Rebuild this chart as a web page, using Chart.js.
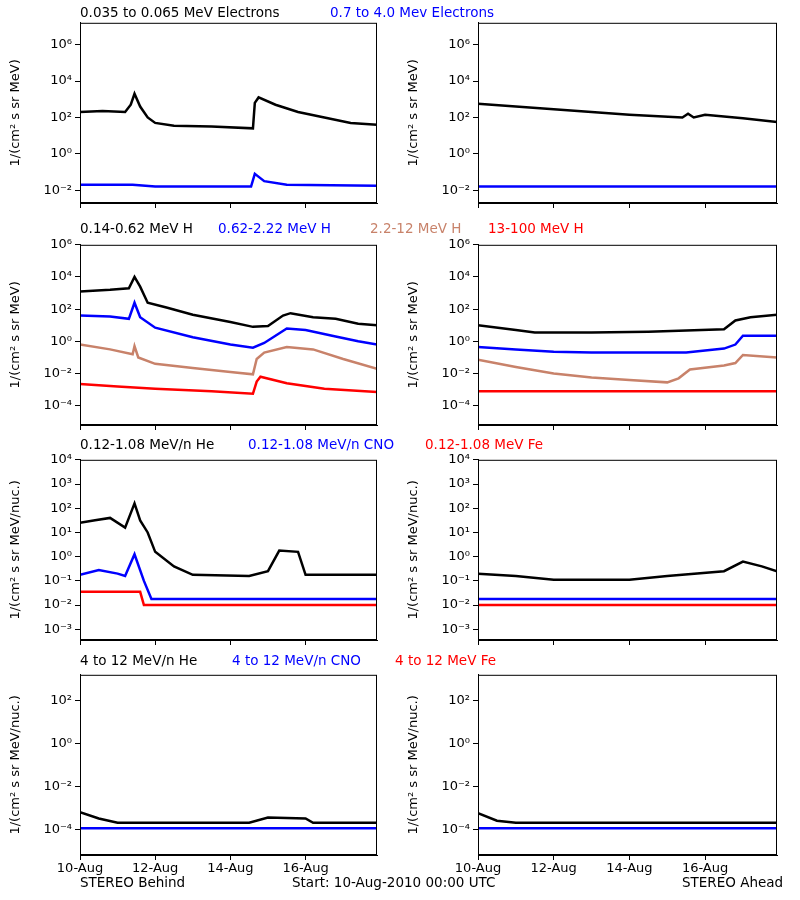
<!DOCTYPE html>
<html><head><meta charset="utf-8">
<script src="https://cdn.jsdelivr.net/npm/chart.js@4"></script>
<style>
body{margin:0;background:#fff;width:800px;height:900px;position:relative;font-family:"DejaVu Sans",sans-serif;}
.t{position:absolute;font-size:13.5px;white-space:nowrap;}
.c{position:absolute;}
</style></head><body>
<script>
// ---- data: [day since 10-Aug-2010, log10(flux)] ----
const xTickDays = [0,2,4,6];
const xTickLabels = ['10-Aug','12-Aug','14-Aug','16-Aug'];
// Row 1 electrons
const bElecLo = [[0,2.3],[0.6,2.35],[1.2,2.3],[1.35,2.7],[1.45,3.3],[1.6,2.6],[1.8,2.0],[2.0,1.7],[2.5,1.55],[3.5,1.5],[4.6,1.4],[4.65,2.8],[4.75,3.1],[5.2,2.7],[5.8,2.3],[6.5,2.0],[7.2,1.7],[7.9,1.6]];
const bElecHi = [[0,-1.7],[1.4,-1.7],[2,-1.8],[4.55,-1.8],[4.65,-1.1],[4.9,-1.5],[5.5,-1.7],[7.9,-1.75]];
const aElecLo = [[0,2.75],[1,2.6],[2,2.45],[3,2.3],[4,2.15],[5.4,2.0],[5.55,2.2],[5.7,2.0],[6,2.15],[7,1.95],[7.9,1.75]];
const aElecHi = [[0,-1.8],[4,-1.8],[7.9,-1.8]];
// Row 2 protons
const bH1 = [[0,3.1],[0.8,3.2],[1.3,3.3],[1.45,4.0],[1.6,3.4],[1.8,2.4],[2.3,2.1],[3,1.65],[4,1.2],[4.6,0.9],[5.0,0.95],[5.4,1.6],[5.6,1.75],[6.2,1.5],[6.8,1.4],[7.4,1.1],[7.9,1.0]];
const bH2 = [[0,1.6],[0.8,1.55],[1.3,1.4],[1.45,2.4],[1.6,1.5],[2,0.85],[3,0.25],[4,-0.2],[4.6,-0.4],[4.9,-0.1],[5.5,0.8],[6,0.7],[6.8,0.3],[7.4,0.0],[7.9,-0.2]];
const bH3 = [[0,-0.2],[0.8,-0.5],[1.4,-0.8],[1.45,-0.3],[1.55,-1.0],[2,-1.4],[3,-1.65],[4,-1.9],[4.6,-2.05],[4.7,-1.1],[4.9,-0.7],[5.5,-0.35],[6.2,-0.5],[7,-1.1],[7.9,-1.7]];
const bH4 = [[0,-2.65],[1,-2.8],[2,-2.95],[3.5,-3.1],[4.6,-3.25],[4.7,-2.5],[4.8,-2.2],[5.5,-2.6],[6.5,-2.95],[7.9,-3.15]];
const aH1 = [[0,1.0],[1,0.7],[1.5,0.55],[3,0.55],[4.5,0.6],[6.5,0.75],[6.8,1.3],[7.2,1.5],[7.9,1.65]];
const aH2 = [[0,-0.35],[1,-0.5],[2,-0.65],[3,-0.7],[5.5,-0.7],[6.5,-0.45],[6.8,-0.2],[7.0,0.35],[7.9,0.35]];
const aH3 = [[0,-1.15],[1,-1.6],[2,-2.0],[3,-2.25],[4,-2.4],[5.0,-2.55],[5.3,-2.3],[5.6,-1.75],[6.5,-1.5],[6.8,-1.35],[7.0,-0.85],[7.9,-1.0]];
const aH4 = [[0,-3.1],[4,-3.1],[7.9,-3.1]];
// Row 3 low-energy ions
const bHe = [[0,1.4],[0.4,1.5],[0.8,1.6],[1.2,1.2],[1.45,2.2],[1.6,1.5],[1.8,1.0],[2,0.2],[2.5,-0.4],[3,-0.75],[4.5,-0.8],[5.0,-0.6],[5.3,0.25],[5.8,0.2],[6.0,-0.75],[7.9,-0.75]];
const bCNO = [[0,-0.75],[0.5,-0.55],[1.0,-0.7],[1.2,-0.8],[1.45,0.1],[1.7,-1.0],[1.9,-1.75],[7.9,-1.75]];
const bFe = [[0,-1.45],[1.6,-1.45],[1.7,-2.0],[7.9,-2.0]];
const aHe = [[0,-0.7],[1,-0.8],[2,-0.95],[4,-0.95],[5,-0.8],[6.5,-0.6],[7,-0.2],[7.5,-0.4],[7.9,-0.6]];
const aCNO = [[0,-1.75],[7.9,-1.75]];
const aFe = [[0,-2.0],[7.9,-2.0]];
// Row 4 high-energy ions
const bHeHi = [[0,-3.2],[0.5,-3.5],[1,-3.7],[4.5,-3.7],[5.0,-3.45],[6.0,-3.5],[6.2,-3.7],[7.9,-3.7]];
const bCNOHi = [[0,-3.95],[7.9,-3.95]];
const aHeHi = [[0,-3.25],[0.5,-3.6],[1,-3.7],[7.9,-3.7]];
const aCNOHi = [[0,-3.95],[7.9,-3.95]];

const BLACK='#000', BLUE='#0000ff', BROWN='#c8826a', RED='#ff0000';
const sup = {'-':'⁻','0':'⁰','1':'¹','2':'²','3':'³','4':'⁴','5':'⁵','6':'⁶','7':'⁷','8':'⁸','9':'⁹'};
const pow = n => '10' + String(n).split('').map(c=>sup[c]).join('');
const F={family:'DejaVu Sans',size:13};

function panel(px,py,pw,ph,ymin,ymax,majors,ytitle,series,showX){
  const d=document.createElement('div');d.className='c';
  const L=72,T=6,R=12,B=26;
  d.style.left=(px-L)+'px';d.style.top=(py-T)+'px';d.style.width=(pw+L+R)+'px';d.style.height=(ph+T+B)+'px';
  const cv=document.createElement('canvas');d.appendChild(cv);document.body.appendChild(d);
  new Chart(cv,{type:'scatter',
    data:{datasets:series.map(s=>({data:s[0].map(p=>({x:p[0],y:Math.pow(10,p[1])})),borderColor:s[1],backgroundColor:s[1],showLine:true,borderWidth:2.5,pointRadius:0}))},
    options:{responsive:true,maintainAspectRatio:false,animation:false,layout:{padding:{top:T,right:R,left:0,bottom:0}},
      plugins:{legend:{display:false},tooltip:{enabled:false}},
      scales:{
        x:{type:'linear',min:0,max:7.9,afterBuildTicks:a=>{a.ticks=xTickDays.map(v=>({value:v}));},
           afterFit:a=>{a.height=B;},
           ticks:{display:showX,color:'#000',font:F,maxRotation:0,padding:1,callback:(v)=>xTickLabels[xTickDays.indexOf(v)]},
           grid:{drawOnChartArea:false,color:'#000',tickLength:5},border:{color:'#000'}},
        y:{type:'logarithmic',min:Math.pow(10,ymin),max:Math.pow(10,ymax),
           afterBuildTicks:a=>{a.ticks=majors.map(v=>({value:Math.pow(10,v)}));},
           afterFit:a=>{a.width=L;},
           ticks:{color:'#000',font:F,callback:v=>pow(Math.round(Math.log10(v)))},
           title:{display:true,text:ytitle,color:'#000',font:F,padding:0},
           grid:{drawOnChartArea:false,color:'#000',tickLength:5},border:{color:'#000'}}
      }},
    plugins:[{id:'box',afterDraw(c){const a=c.chartArea,g=c.ctx;g.save();g.strokeStyle='#000';g.lineWidth=1;g.strokeRect(a.left+0.5,a.top+0.5,a.width-1,a.height-1);g.restore();}}]
  });
}
function txt(x,y,s,col){const e=document.createElement('div');e.className='t';e.style.left=x+'px';e.style.top=(y-9)+'px';e.style.color=col;e.textContent=s;document.body.appendChild(e);}

const U1='1/(cm² s sr MeV)', U3='1/(cm² s sr MeV/nuc.)';
const rows=[
 {y:18,h:185,min:-2.7,max:7.2,maj:[-2,0,2,4,6],u:U1,L:[[bElecLo,BLACK],[bElecHi,BLUE]],R:[[aElecLo,BLACK],[aElecHi,BLUE]]},
 {y:240,h:185,min:-5.2,max:6,maj:[-4,-2,0,2,4,6],u:U1,L:[[bH1,BLACK],[bH2,BLUE],[bH3,BROWN],[bH4,RED]],R:[[aH1,BLACK],[aH2,BLUE],[aH3,BROWN],[aH4,RED]]},
 {y:455,h:185,min:-3.44,max:4,maj:[-3,-2,-1,0,1,2,3,4],u:U3,L:[[bHe,BLACK],[bCNO,BLUE],[bFe,RED]],R:[[aHe,BLACK],[aCNO,BLUE],[aFe,RED]]},
 {y:670,h:185,min:-5.2,max:3.2,maj:[-4,-2,0,2],u:U3,L:[[bHeHi,BLACK],[bCNOHi,BLUE]],R:[[aHeHi,BLACK],[aCNOHi,BLUE]]}
];
rows.forEach((r,i)=>{
  panel(80,r.y,297,r.h,r.min,r.max,r.maj,r.u,r.L,i===3);
  panel(478,r.y,299,r.h,r.min,r.max,r.maj,r.u,r.R,i===3);
});
txt(80,13,'0.035 to 0.065 MeV Electrons',BLACK);txt(330,13,'0.7 to 4.0 Mev Electrons',BLUE);
txt(80,229,'0.14-0.62 MeV H',BLACK);txt(218,229,'0.62-2.22 MeV H',BLUE);txt(370,229,'2.2-12 MeV H',BROWN);txt(488,229,'13-100 MeV H',RED);
txt(80,445,'0.12-1.08 MeV/n He',BLACK);txt(248,445,'0.12-1.08 MeV/n CNO',BLUE);txt(425,445,'0.12-1.08 MeV Fe',RED);
txt(80,661,'4 to 12 MeV/n He',BLACK);txt(232,661,'4 to 12 MeV/n CNO',BLUE);txt(395,661,'4 to 12 MeV Fe',RED);
txt(80,883,'STEREO Behind',BLACK);txt(292,883,'Start: 10-Aug-2010 00:00 UTC',BLACK);txt(682,883,'STEREO Ahead',BLACK);
</script>
</body></html>
